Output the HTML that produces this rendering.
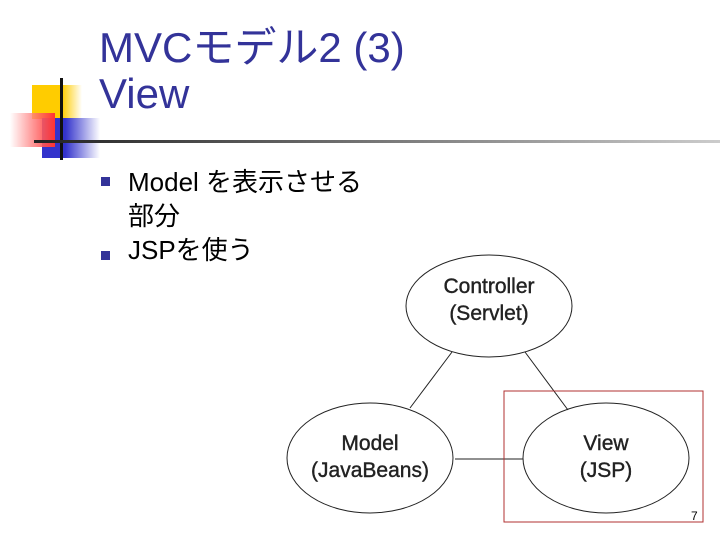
<!DOCTYPE html>
<html><head><meta charset="utf-8"><style>
body{margin:0;width:720px;height:540px;background:#fff;position:relative;overflow:hidden;font-family:"Liberation Sans","Noto Sans CJK JP",sans-serif}
.a{position:absolute}
</style></head><body>
<div class="a" style="left:32px;top:85px;width:50px;height:34px;background:linear-gradient(to right,#fc0 60%,#fff)"></div>
<div class="a" style="left:42px;top:118px;width:58px;height:40px;background:linear-gradient(to right,#33c 40%,#fff)"></div>
<div class="a" style="left:10px;top:113px;width:45px;height:34px;background:linear-gradient(to right,rgba(255,255,255,0.6),#f33)"></div>
<div class="a" style="left:60px;top:78px;width:3px;height:82px;background:#111"></div>
<div class="a" style="left:34px;top:140px;width:686px;height:3px;background:linear-gradient(to right,#222,#555 30%,#ccc)"></div>
<div class="a" style="left:99px;top:25px;font-size:42px;line-height:46px;color:#333399">MVCモデル2 (3)<br>View</div>
<div class="a" style="left:101px;top:177px;width:9px;height:9px;background:#333399"></div>
<div class="a" style="left:101px;top:251px;width:9px;height:9px;background:#333399"></div>
<div class="a" style="left:128px;top:165px;font-size:26px;line-height:34px;color:#000">Model を表示させる<br>部分<br>JSPを使う</div>
<svg class="a" style="left:0;top:0" width="720" height="540">
<g stroke="#222" stroke-width="1" fill="none">
<line x1="452" y1="352" x2="410" y2="408"/>
<line x1="525" y1="352" x2="568" y2="410"/>
<line x1="455" y1="459" x2="523" y2="459"/>
<ellipse cx="489" cy="306" rx="83" ry="51"/>
<ellipse cx="370" cy="458" rx="83" ry="55"/>
<ellipse cx="606" cy="458" rx="83" ry="55"/>
</g>
<rect x="504" y="391" width="199" height="131" fill="none" stroke="#b03030" stroke-width="1"/>
<g font-size="21" fill="#222" stroke="#222" stroke-width="0.4" text-anchor="middle" font-family="Liberation Sans,sans-serif">
<text x="489" y="293">Controller</text><text x="489" y="320">(Servlet)</text>
<text x="370" y="450">Model</text><text x="370" y="477">(JavaBeans)</text>
<text x="606" y="450">View</text><text x="606" y="477">(JSP)</text>
</g>
<text x="691" y="520" font-size="12" fill="#000" font-family="Liberation Sans,sans-serif">7</text>
</svg>
</body></html>
